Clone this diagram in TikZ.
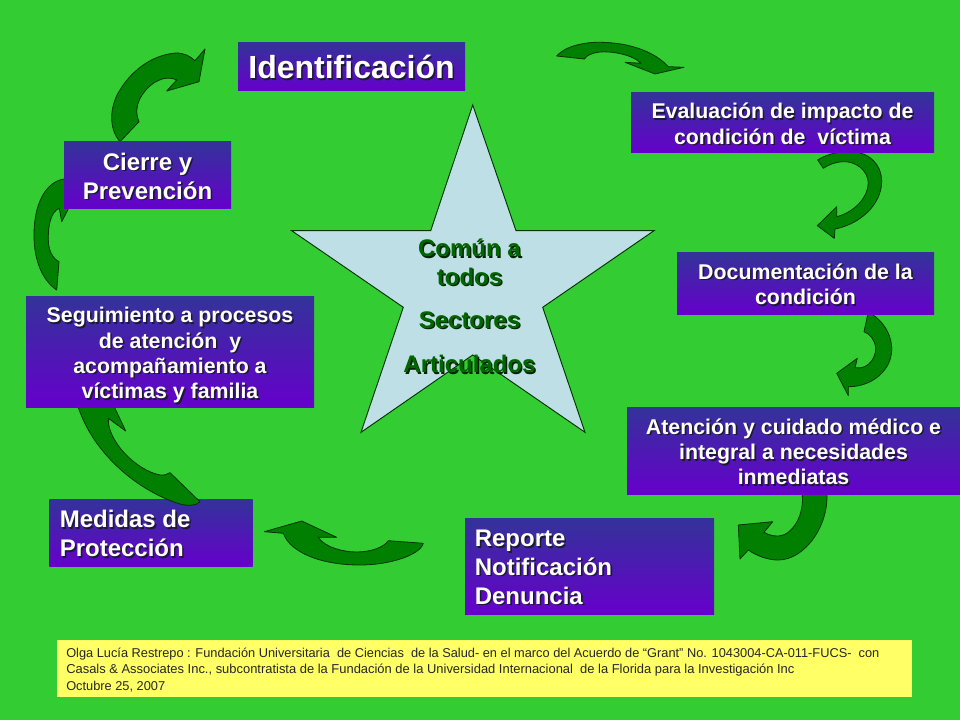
\documentclass[tikz,border=0pt]{standalone}
\usepackage{fontspec}
\setmainfont{Liberation Sans}
\definecolor{bgreen}{HTML}{33CC33}
\definecolor{arrowfill}{HTML}{007F00}
\definecolor{arrowline}{HTML}{003300}
\definecolor{boxtop}{HTML}{333399}
\definecolor{boxbot}{HTML}{6600CC}
\definecolor{starfill}{HTML}{BDDFE5}
\definecolor{notefill}{HTML}{FFFF66}
\definecolor{startext}{HTML}{006600}
\definecolor{shadowcol}{HTML}{1A1A33}
\newcommand{\shw}[1]{\leavevmode\rlap{\kern1.2pt\raisebox{-1.2pt}{\textcolor{shadowcol}{#1}}}#1}
\newcommand{\shg}[1]{\leavevmode\rlap{\kern1.1pt\raisebox{-1.1pt}{\textcolor{arrowline!70!black}{#1}}}#1}
\tikzset{
  x=.75pt,y=-.75pt,
  gbox/.style={rectangle,inner sep=0pt,top color=boxtop,bottom color=boxbot},
  boxtext/.style={inner sep=0pt,text=white,align=center},
  boxleft/.style={inner sep=0pt,text=white,align=left,anchor=west},
  big/.style={font=\fontsize{24}{29}\selectfont\bfseries},
  mid/.style={font=\fontsize{18}{21.6}\selectfont\bfseries},
  small/.style={font=\fontsize{16}{18.9}\selectfont\bfseries},
  garrow/.style={fill=arrowfill,draw=arrowline,line width=.6pt,line join=round},
  starshape/.style={fill=starfill,draw=black!80!green,line width=.7pt,line join=miter},
  notebox/.style={rectangle,fill=notefill,inner sep=0pt},
  notetext/.style={inner sep=0pt,align=left,anchor=west,text=black!85,font=\fontsize{9.6}{12.25}\selectfont},
  startxt/.style={inner sep=0pt,align=center,text=startext,font=\fontsize{18}{21.6}\selectfont\bfseries}
}
\begin{document}
\begin{tikzpicture}
\useasboundingbox (0,0) rectangle (960,720);
\fill[bgreen] (0,0) rectangle (960,720);

% star
\draw[starshape] (472.7,105) -- (516,230.7) -- (654,230.7) -- (542.7,307.3) -- (585,432.3) -- (472.7,355) -- (361,432.3) -- (403.3,307.3) -- (291.7,230.7) -- (430.7,230.7) -- cycle;
\node[startxt] (comun) at (469.5,263) {\shg{Común a}\\\shg{todos}};
\node[startxt] (sectores) at (469.5,321) {\shg{Sectores}};
\node[startxt] (articulados) at (469.5,365) {\shg{Articulados}};

% box under the arrow that ends on it
\node[gbox,minimum width=152.5pt,minimum height=50.75pt] (medidas) at (151,533) {};
\node[boxleft,mid] (medidast) at (59.5,534.5) {\shw{Medidas de}\\\shw{Protección}};

% block arrows
\draw[garrow] (120,141.7) .. controls (108,128) and (110,105) .. (120,90) .. controls (130,73) and (150,55) .. (176,53) .. controls (184,53) and (190,56) .. (195,60.7) -- (205,49) -- (199,81.7) -- (166.7,91) -- (176.7,80) .. controls (168,76) and (160,79) .. (153.3,83.3) .. controls (143,91) and (132,105) .. (139,121.7) -- cycle;
\draw[garrow] (56.7,290) .. controls (42,280) and (34,260) .. (34,235) .. controls (34,205) and (45,182) .. (64,179) -- (72,175) -- (68.3,209) -- (61.7,221.7) -- (59.3,208.3) .. controls (50,212) and (48,228) .. (48.3,240) .. controls (48.5,250) and (52,258) .. (59,261.7) -- cycle;
\draw[garrow] (556.7,56) .. controls (565,46) and (585,42) .. (600,42.3) .. controls (630,42.5) and (655,52) .. (668.3,66.7) -- (684,67.3) -- (655,74) -- (625,62.3) -- (641,63.3) .. controls (632,54) and (610,51) .. (600,52) .. controls (592,53) and (587,55) .. (584.3,59) -- cycle;
\draw[garrow] (817.7,160) .. controls (825,155) and (845,148) .. (860,153) .. controls (875,157) and (882,170) .. (881.7,182) .. controls (881,205) and (860,224) .. (835,229) -- (834.3,238.3) -- (817.3,225.7) -- (836.7,206.7) -- (836.7,216.7) .. controls (855,212) and (868,197) .. (868.3,183) .. controls (868,170) and (855,161) .. (843,161.7) .. controls (835,162) and (828,165) .. (823.3,168.3) -- cycle;
\draw[garrow] (868.3,312) .. controls (880,318) and (892,332) .. (891.7,350) .. controls (891,372) and (870,387) .. (848.3,386.7) -- (848.3,395.7) -- (836.7,373.3) -- (857.3,358.3) -- (855,367.7) .. controls (868,370) and (876,358) .. (875.7,348) .. controls (875,340) and (870,334) .. (864,331.7) -- cycle;
\draw[garrow] (826.7,490) .. controls (830,525) and (805,560) .. (778,560) .. controls (768,560) and (757,556) .. (748.3,550) -- (740,559) -- (738.3,525) -- (772.7,521.7) -- (764,532.3) .. controls (770,536) and (775,536) .. (779,536) .. controls (792,535) and (806,515) .. (801.7,490) -- cycle;
\draw[garrow] (423.3,543.3) .. controls (420,555) and (390,565) .. (360,565) .. controls (320,565) and (290,552) .. (283.3,533.3) -- (264.3,531.7) -- (301.7,521) -- (336.7,537.3) -- (318.3,537.3) .. controls (325,548) and (345,552) .. (356,552) .. controls (372,552) and (384,547) .. (388.3,540.7) -- cycle;
\draw[garrow] (200,501.7) .. controls (196,506) and (188,506) .. (180,504) .. controls (135,490) and (90,450) .. (76.7,402) -- (112,402) -- (125.7,431) -- (108.3,418.3) .. controls (107,440) and (135,470) .. (160,475) .. controls (164,475.5) and (167,474.5) .. (170,472.7) -- cycle;

% boxes
\node[gbox,minimum width=170.25pt,minimum height=36pt] (ident) at (351.5,67) {};
\node[boxtext,big] (identt) at (351.5,68) {\shw{Identificación}};
\node[gbox,minimum width=227.25pt,minimum height=45pt] (eval) at (782.5,123) {};
\node[boxtext,small] (evalt) at (782.5,124.5) {\shw{Evaluación de impacto de}\\\shw{condición de\ \ víctima}};
\node[gbox,minimum width=192.75pt,minimum height=45.75pt] (doc) at (805.5,283.5) {};
\node[boxtext,small] (doct) at (805.5,285) {\shw{Documentación de la}\\\shw{condición}};
\node[gbox,minimum width=249.75pt,minimum height=65.25pt] (aten) at (793.5,450.5) {};
\node[boxtext,small] (atent) at (793.5,452.5) {\shw{Atención y cuidado médico e}\\\shw{integral a necesidades}\\\shw{inmediatas}};
\node[gbox,minimum width=186.75pt,minimum height=72pt] (reporte) at (589.5,566) {};
\node[boxleft,mid] (reportet) at (474.5,568) {\shw{Reporte}\\\shw{Notificación}\\\shw{Denuncia}};
\node[gbox,minimum width=216pt,minimum height=83.75pt] (seguim) at (170,352) {};
\node[boxtext,small] (seguimt) at (170,356) {\shw{Seguimiento a procesos}\\\shw{de atención\ \ y}\\\shw{acompañamiento a}\\\shw{víctimas y familia}};
\node[gbox,minimum width=125.25pt,minimum height=50.25pt] (cierre) at (147.5,175.5) {};
\node[boxtext,mid] (cierret) at (147.5,177) {\shw{Cierre y}\\\shw{Prevención}};

% note
\node[notebox,minimum width=641.25pt,minimum height=42.75pt] (nota) at (484.5,668.5) {};
\node[notetext] (notat) at (66,670) {Olga Lucía Restrepo : Fundación Universitaria\ \ de Ciencias\ \ de la Salud- en el marco del Acuerdo de “Grant” No. 1043004-CA-011-FUCS-\ \ con\\{\fontsize{9.7}{12.25}\selectfont Casals \& Associates Inc., subcontratista de la Fundación de la Universidad Internacional\ \ de la Florida para la Investigación Inc}\\Octubre 25, 2007};
\end{tikzpicture}
\end{document}
